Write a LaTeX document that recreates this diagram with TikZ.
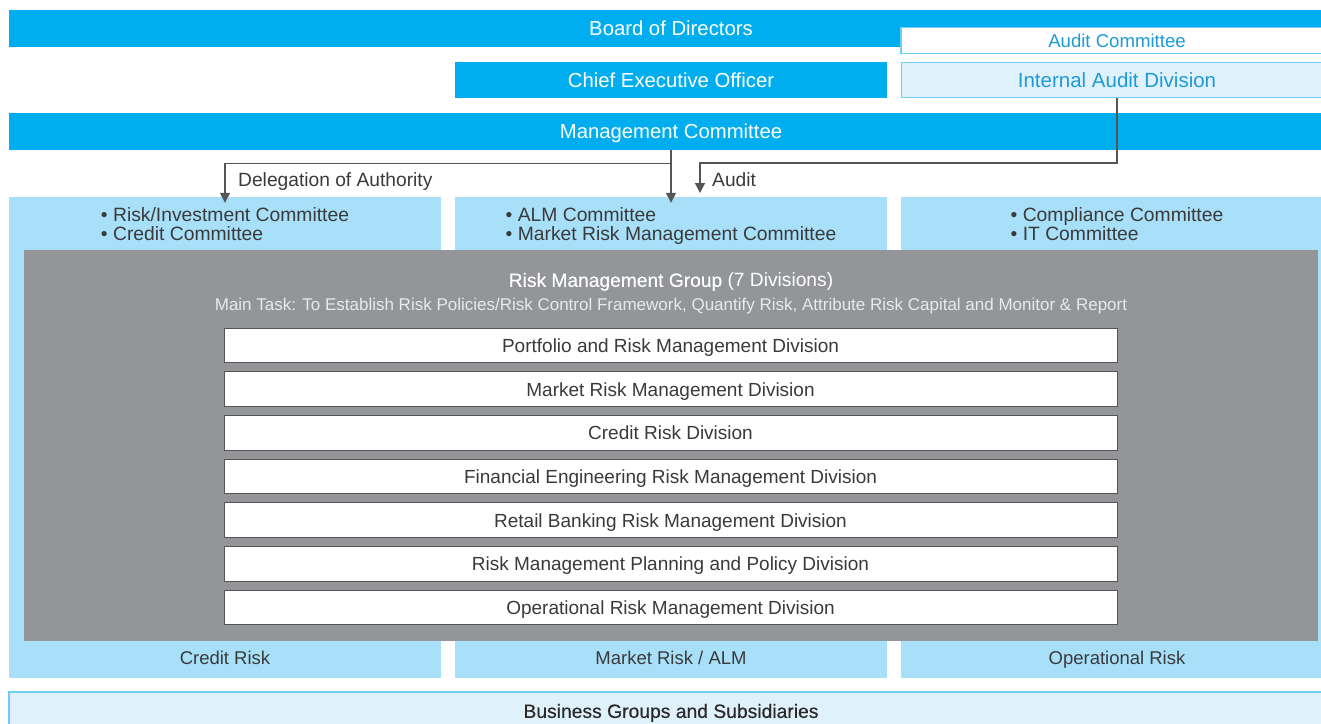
\documentclass[tikz,border=0pt]{standalone}
\usepackage{fontspec}
\setmainfont{Liberation Sans}
\usepackage{tikz}
\usetikzlibrary{positioning,arrows.meta}
\definecolor{Cyan}{HTML}{00AEEF}
\definecolor{Pale}{HTML}{A8E0F9}
\definecolor{Mist}{HTML}{DFF2FC}
\definecolor{Edge}{HTML}{6DCFF6}
\definecolor{AuditBlue}{HTML}{1E9AD6}
\definecolor{Slate}{HTML}{939598}
\definecolor{Haze}{HTML}{E8E9EA}
\definecolor{Ink}{HTML}{3A3A3A}
\definecolor{Wire}{HTML}{555555}

\begin{document}
\begin{tikzpicture}[x=1pt,y=-1pt,node distance=8.17pt, every node/.style={font=\fontsize{19}{19.3}\selectfont,inner sep=0pt,text=Ink}]
\tikzstyle{capped}=[text height=13.7pt,text depth=0pt]
\tikzstyle{bar}=[capped,fill=Cyan,text=white,minimum height=37pt,font=\fontsize{20.3}{21}\selectfont,text height=14.5pt]
\tikzstyle{pane}=[capped,draw=Edge,line width=1.2pt,fill=Mist,text=AuditBlue]
\tikzstyle{column}=[fill=Pale,minimum width=432pt,minimum height=481pt]
\tikzstyle{division}=[capped,draw=Wire,line width=1pt,fill=white,minimum width=893pt,minimum height=34.5pt]
\tikzstyle{link}=[draw=Wire,line width=1.3pt,-{Triangle[length=10pt,width=10pt]}]
\useasboundingbox (0,0) rectangle (1321,723);
\clip (0,0) rectangle (1321,723);

% top of the chart
\node[bar,minimum width=1324pt] (board) at (671,28.5) {Board of Directors};
\node[pane,fill=white,minimum width=432pt,minimum height=26pt,font=\fontsize{18.6}{19}\selectfont,text height=13.3pt] (auditcom) at (1117,40.5) {Audit Committee};
\node[bar,minimum width=432pt,minimum height=36pt] (ceo) at (671,80) {Chief Executive Officer};
\node[pane,minimum width=431pt,minimum height=35pt,font=\fontsize{20.5}{21}\selectfont,text height=14.7pt] (iad) at (1117,80) {Internal Audit Division};
\node[bar,minimum width=1324pt] (mgmt) at (671,131.5) {Management Committee};

% three risk columns
\node[column] (credit) at (225,437.5) {};
\node[column] (market) at (671,437.5) {};
\node[column] (oper) at (1117,437.5) {};
\node[align=left,font=\fontsize{19.3}{19}\selectfont] (creditcom) at (225,224.5) {• Risk/Investment Committee\\• Credit Committee};
\node[align=left,font=\fontsize{19.3}{19}\selectfont] (marketcom) at (671,226.5) {• ALM Committee\\• Market Risk Management Committee};
\node[align=left,font=\fontsize{19.3}{19}\selectfont] (opercom) at (1117,224.5) {• Compliance Committee\\• IT Committee};
\node[capped,font=\fontsize{18.5}{19}\selectfont,text height=13.3pt] (creditlbl) at (225,658) {Credit Risk};
\node[capped,font=\fontsize{18.5}{19}\selectfont,text height=13.3pt] (marketlbl) at (671,658) {Market Risk / ALM};
\node[capped,font=\fontsize{18.5}{19}\selectfont,text height=13.3pt] (operlbl) at (1117,658) {Operational Risk};

% risk management group
\node[fill=Slate,minimum width=1294pt,minimum height=391pt] (rmg) at (671,445.5) {};
\node[capped,text=white,font=\fontsize{19.2}{20}\selectfont] (rmgtitle) at (671,280) {{\addfontfeature{FakeBold=0.4}Risk Management Group} (7 Divisions)};
\node[capped,text=Haze,font=\fontsize{17}{18}\selectfont,text height=12.2pt] (rmgtask) at (671,304) {Main Task: To Establish Risk Policies/Risk Control Framework, Quantify Risk, Attribute Risk Capital and Monitor \& Report};
\node[division] (d1) at (670.5,345.5) {Portfolio and Risk Management Division};
\node[division,below=of d1] (d2) {Market Risk Management Division};
\node[division,below=of d2] (d3) {Credit Risk Division};
\node[division,below=of d3] (d4) {Financial Engineering Risk Management Division};
\node[division,below=of d4] (d5) {Retail Banking Risk Management Division};
\node[division,below=of d5] (d6) {Risk Management Planning and Policy Division};
\node[division,below=of d6] (d7) {Operational Risk Management Division};

\node[pane,text=Ink!70!black,minimum width=1324pt,minimum height=38pt,font=\fontsize{19.3}{20}\selectfont\addfontfeature{FakeBold=0.4},text height=13.8pt] (biz) at (671,711) {Business Groups and Subsidiaries};

% reporting lines
\coordinate (auditin) at (700,193);
\draw[link,shorten >=-6pt] (mgmt.south) -- (market.north);
\draw[link,shorten >=-6pt] (mgmt.south) -- ++(0,13) -| (credit.north);
\draw[link] (iad.south) -- ++(0,65) -| (auditin);
\node[anchor=base west,font=\fontsize{19.2}{20}\selectfont] (deleg) at (238,186) {Delegation of Authority};
\node[anchor=base west,font=\fontsize{19.2}{20}\selectfont] (auditlbl) at (712,186) {Audit};
\end{tikzpicture}
\end{document}
